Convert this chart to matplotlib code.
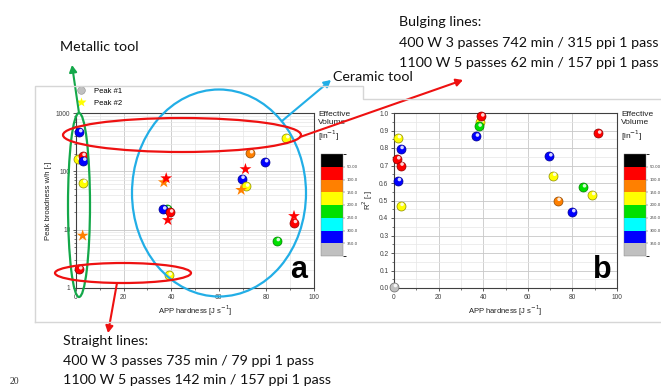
import numpy as np
import matplotlib
matplotlib.use('Agg')
import matplotlib.pyplot as plt
from matplotlib.colors import ListedColormap, BoundaryNorm, to_rgb
from matplotlib.patches import Ellipse, FancyArrowPatch
from matplotlib.lines import Line2D
import matplotlib.transforms as mtransforms
import matplotlib.colorbar as mcolorbar
from matplotlib.ticker import MultipleLocator, LogLocator, NullFormatter

# ---------------- data ----------------
vol_colors = ['#000000', '#ff0000', '#ff8000', '#ffff00', '#00e000', '#00ffff', '#0000ff', '#c0c0c0']
vol_bounds = [0, 50, 100, 150, 200, 250, 300, 350, 400]
vol_ticks = [50, 100, 150, 200, 250, 300, 350]
vol_ticklabels = ['50.00', '100.0', '150.0', '200.0', '250.0', '300.0', '350.0']

# panel a, Peak #1 (spheres)
a_sph_x = [0.7, 2.8, 3.1, 1.4, 3.1, 1.4, 38.3, 36.7, 39.6, 39.0, 73.2, 79.5, 69.6, 71.5, 88.4, 91.6, 84.4]
a_sph_y = [160, 184, 153, 471, 64, 2.1, 22.5, 22.3, 19.8, 1.65, 205, 144, 75, 55, 372, 13.1, 6.4]
a_sph_v = [175, 75, 325, 325, 175, 75, 225, 325, 75, 175, 125, 325, 325, 175, 175, 75, 225]
# panel a, Peak #2 (stars)
a_star_x = [2.8, 36.9, 37.9, 38.6, 71.2, 69.4, 91.6]
a_star_y = [7.9, 65, 76, 14.6, 109, 48, 17.1]
a_star_v = [125, 125, 75, 75, 75, 125, 75]

# panel b (spheres)
b_x = [38.7, 39.2, 38.0, 36.8, 1.8, 3.0, 1.5, 3.0, 1.8, 3.0, 91.6, 69.7, 71.4, 84.8, 88.9, 73.4, 80.0, 0.0]
b_y = [0.946, 0.981, 0.923, 0.866, 0.857, 0.795, 0.736, 0.700, 0.612, 0.470, 0.883, 0.753, 0.642,
       0.576, 0.532, 0.499, 0.434, 0.006]
b_v = [175, 75, 225, 325, 175, 325, 75, 75, 325, 175, 75, 325, 175, 225, 175, 125, 325, 375]

a_xticks = [0, 20, 40, 60, 80, 100]
a_yticks = [1, 10, 100, 1000]
b_yticks = [0.0, 0.1, 0.2, 0.3, 0.4, 0.5, 0.6, 0.7, 0.8, 0.9, 1.0]

legend_labels = ['Peak #1', 'Peak #2']
cbar_title = 'Effective\nVolume\n[in$^{-1}$]'
xlabel = 'APP hardness [J s$^{-1}$]'

# ---------------- figure ----------------
W, H = 661, 387
fig = plt.figure(figsize=(W / 100, H / 100), dpi=100)
fig.patch.set_facecolor('white')

def fr(x0, y0, x1, y1):
    return [x0 / W, 1 - y1 / H, (x1 - x0) / W, (y1 - y0) / H]

cmap = ListedColormap(vol_colors)
norm = BoundaryNorm(vol_bounds, cmap.N)

AXFONT = 'Liberation Sans'
TXTFONT = 'Lato'
spine_c = '#404040'

def style_axes(ax):
    for s in ax.spines.values():
        s.set_color(spine_c)
        s.set_linewidth(0.8)
    ax.tick_params(which='major', direction='out', length=2.5, width=0.6, labelsize=4.8,
                   colors=spine_c, pad=1.5)
    ax.tick_params(which='minor', direction='out', length=1.5, width=0.5, colors=spine_c)
    for lab in ax.get_xticklabels() + ax.get_yticklabels():
        lab.set_fontfamily(AXFONT)
    ax.grid(True, which='major', color='#c8c8c8', lw=0.6)
    ax.grid(True, which='minor', color='#e6e6e6', lw=0.5)
    ax.set_axisbelow(True)

def spheres(ax, x, y, v, s=42, z0=3):
    for i, (xi, yi, vi) in enumerate(zip(x, y, v)):
        col = np.array(to_rgb(cmap(norm(vi))))
        dark = col * 0.55
        z = z0 + i * 0.01
        ax.scatter([xi], [yi], s=s, color=[col], edgecolors=[dark], linewidths=0.5,
                   zorder=z, clip_on=False)
        off = mtransforms.offset_copy(ax.transData, fig=fig, x=1.4, y=1.4, units='dots')
        ax.scatter([xi], [yi], s=s * 0.16, color='white', alpha=0.85, edgecolors='none',
                   zorder=z + 0.005, transform=off, clip_on=False)

# ---- panel a ----
axa = fig.add_axes(fr(76, 113, 314, 288))
axa.set_yscale('log')
axa.set_xlim(0, 100)
axa.set_ylim(1, 1000)
axa.set_xticks(a_xticks)
axa.set_xticklabels([str(t) for t in a_xticks])
axa.xaxis.set_minor_locator(MultipleLocator(10))
axa.set_yticks(a_yticks)
axa.set_yticklabels([str(t) for t in a_yticks])
axa.yaxis.set_minor_locator(LogLocator(base=10, subs=np.arange(2, 10)))
axa.yaxis.set_minor_formatter(NullFormatter())
style_axes(axa)
axa.set_xlabel(xlabel, fontsize=5.5, fontfamily=AXFONT, labelpad=2, color='#202020')
axa.set_ylabel('Peak broadness w/h [-]', fontsize=5.5, fontfamily=AXFONT, labelpad=3, color='#202020')
spheres(axa, a_sph_x, a_sph_y, a_sph_v)
for xi, yi, vi in zip(a_star_x, a_star_y, a_star_v):
    axa.scatter([xi], [yi], s=80, marker='*', color=[cmap(norm(vi))], edgecolors='none',
                zorder=5, clip_on=False)
axa.text(0.97, 0.057, 'a', transform=axa.transAxes, fontsize=22, fontweight='bold',
         fontfamily=AXFONT, ha='right', va='baseline')
handles = [Line2D([], [], ls='none', marker='o', ms=5.5, mfc='#c0c0c0', mec='#909090', mew=0.4),
           Line2D([], [], ls='none', marker='*', ms=7, mfc='#ffff00', mec='none')]
leg = axa.legend(handles, legend_labels, loc='upper left', bbox_to_anchor=(0.0, 1.145),
                 frameon=False, prop={'family': AXFONT, 'size': 5.5}, handletextpad=1.2,
                 borderpad=0, labelspacing=0.55, handlelength=1.2, borderaxespad=0)

# ---- panel b ----
axb = fig.add_axes(fr(394, 113, 617, 288))
axb.set_xlim(0, 100)
axb.set_ylim(0, 1.0)
axb.set_xticks(a_xticks)
axb.set_xticklabels([str(t) for t in a_xticks])
axb.xaxis.set_minor_locator(MultipleLocator(10))
axb.set_yticks(b_yticks)
axb.set_yticklabels(['%.1f' % t for t in b_yticks])
axb.yaxis.set_minor_locator(MultipleLocator(0.05))
style_axes(axb)
axb.set_xlabel(xlabel, fontsize=5.5, fontfamily=AXFONT, labelpad=2, color='#202020')
axb.set_ylabel('R$^2$ [-]', fontsize=5.5, fontfamily=AXFONT, labelpad=3, color='#202020')
spheres(axb, b_x, b_y, b_v)
axb.text(0.978, 0.057, 'b', transform=axb.transAxes, fontsize=22, fontweight='bold',
         fontfamily=AXFONT, ha='right', va='baseline')

# ---- colour bars ----
for (x0, x1, tx) in [(321, 343, 318), (624, 646, 621)]:
    cax = fig.add_axes(fr(x0, 154, x1, 256))
    cb = mcolorbar.Colorbar(cax, cmap=cmap, norm=norm, boundaries=vol_bounds,
                            ticks=vol_ticks, orientation='vertical')
    cax.invert_yaxis()
    cb.outline.set_linewidth(0.3)
    cb.outline.set_edgecolor('#808080')
    cb.set_ticklabels(vol_ticklabels)
    cax.tick_params(labelsize=2.8, length=1.2, width=0.3, pad=1.5, colors='#404040')
    fig.text(tx / W, 1 - 111 / H, cbar_title, fontsize=6, fontfamily=AXFONT,
             ha='left', va='top', linespacing=1.25, color='#202020')

# ---------------- overlay annotations ----------------
ov = fig.add_axes([0, 0, 1, 1], zorder=10)
ov.set_xlim(0, W)
ov.set_ylim(H, 0)
ov.axis('off')
ov.patch.set_alpha(0)

frame_c = '#d6d6d6'
ov.plot([35, 35, 363, 363, 700], [322, 86, 86, 99, 99], color=frame_c, lw=1.0)
ov.plot([35, 700], [322, 322], color=frame_c, lw=1.0)

GREEN = '#14a84a'
BLUE = '#22aee6'
RED = '#ee1111'
ov.add_patch(Ellipse((79, 205), 22, 184, fill=False, ec=GREEN, lw=1.6))
ov.add_patch(Ellipse((219, 193), 174, 207, fill=False, ec=BLUE, lw=1.6))
ov.add_patch(Ellipse((182, 135), 238, 34, fill=False, ec=RED, lw=1.6))
ov.add_patch(Ellipse((123, 273), 136, 20, fill=False, ec=RED, lw=1.6))

def arrow(p0, p1, c):
    ov.add_patch(FancyArrowPatch(p0, p1, arrowstyle='-|>,head_length=4,head_width=2.2',
                                 color=c, lw=1.5, mutation_scale=1, shrinkA=0, shrinkB=0))

arrow((79, 113), (72, 65), GREEN)
arrow((282, 121), (331, 80), BLUE)
arrow((300, 137), (463, 80), RED)
arrow((117, 283), (108, 333), RED)

tkw = dict(fontsize=10.3, fontfamily=TXTFONT, color='#111111', va='center', ha='left')
ov.text(60, 47, 'Metallic tool', **tkw)
ov.text(333, 77, 'Ceramic tool', **tkw)
ov.text(399, 22, 'Bulging lines:', **tkw)
ov.text(399, 43, '400 W 3 passes 742 min / 315 ppi 1 pass', **tkw)
ov.text(399, 63, '1100 W 5 passes 62 min / 157 ppi 1 pass', **tkw)
ov.text(63, 341, 'Straight lines:', **tkw)
ov.text(63, 361, '400 W 3 passes 735 min / 79 ppi 1 pass', **tkw)
ov.text(63, 380, '1100 W 5 passes 142 min / 157 ppi 1 pass', **tkw)
ov.text(10, 386, '20', fontsize=7, fontfamily='Liberation Serif', color='#333333',
        va='bottom', ha='left')

fig.savefig('out.png', dpi=100)
